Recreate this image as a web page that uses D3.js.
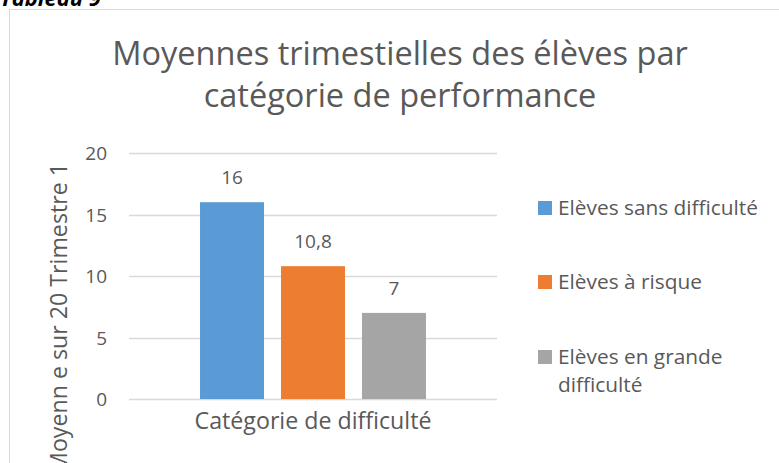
<!DOCTYPE html>
<html>
<head>
<meta charset="utf-8">
<script src="https://cdn.jsdelivr.net/npm/d3@7"></script>
<style>
html,body{margin:0;padding:0;background:#fff;overflow:hidden;}
svg{display:block;}
text{font-family:"Open Sans",sans-serif;fill:#595959;}
</style>
</head>
<body>
<svg id="c" width="779" height="463"></svg>
<script>
const categories = ["Catégorie de difficulté"];
const seriesNames = ["Elèves sans difficulté", "Elèves à risque", "Elèves en grande difficulté"];
const seriesValues = [16, 10.8, 7];
const valueLabels = ["16", "10,8", "7"];
const seriesColors = ["#5B9BD5", "#ED7D31", "#A5A5A5"];
const yTicks = [0, 5, 10, 15, 20];
const titleLines = ["Moyennes trimestielles des élèves par", "catégorie de performance"];
const yTitle = "Moyenn e sur 20 Trimestre 1";
const caption = "Tableau 9";

const svg = d3.select("#c");

function fit(sel, target) {
  const w = sel.node().getComputedTextLength();
  const fs = parseFloat(sel.attr("font-size"));
  sel.attr("font-size", fs * target / w);
}

// caption above chart (clipped)
svg.append("text").attr("x", 0).attr("y", 6)
  .attr("font-family", "Liberation Serif").attr("font-weight", "bold").attr("font-style", "italic")
  .attr("font-size", 22).style("fill", "#000").text(caption);

// chart frame
svg.append("rect").attr("x", 9.5).attr("y", 9.5).attr("width", 820).attr("height", 520)
  .attr("fill", "#fff").attr("stroke", "#D9D9D9").attr("stroke-width", 1);

// title
const tcx = 400;
const t1 = svg.append("text").attr("x", tcx).attr("y", 65).attr("text-anchor", "middle")
  .attr("font-size", 30).text(titleLines[0]);
fit(t1, 576);
const t2 = svg.append("text").attr("x", tcx).attr("y", 107).attr("text-anchor", "middle")
  .attr("font-size", t1.attr("font-size")).text(titleLines[1]);

const y = d3.scaleLinear().domain([0, 20]).range([399, 153]);
const x0 = d3.scaleBand().domain(categories).range([129, 497]);
const x1 = d3.scaleBand().domain(seriesNames).range([129, 497])
  .paddingInner(0.21).paddingOuter(0.877);

// gridlines
svg.append("g").selectAll("line").data(yTicks).join("line")
  .attr("x1", x0.range()[0]).attr("x2", x0.range()[1])
  .attr("y1", d => Math.round(y(d)) + 0.5).attr("y2", d => Math.round(y(d)) + 0.5)
  .attr("stroke", "#D9D9D9").attr("stroke-width", 1.3);

// y tick labels
svg.append("g").selectAll("text").data(yTicks).join("text")
  .attr("x", 107).attr("y", d => y(d) + 7).attr("text-anchor", "end")
  .attr("font-size", 19).text(d => d);

// bars
const bars = seriesNames.map((s, i) => ({s, v: seriesValues[i], c: seriesColors[i], l: valueLabels[i]}));
svg.append("g").selectAll("rect").data(bars).join("rect")
  .attr("x", d => x1(d.s)).attr("width", x1.bandwidth())
  .attr("y", d => y(d.v)).attr("height", d => y(0) - y(d.v))
  .attr("fill", d => d.c);

// value labels
svg.append("g").selectAll("text").data(bars).join("text")
  .attr("x", d => x1(d.s) + x1.bandwidth() / 2).attr("y", d => y(d.v) - 18)
  .attr("text-anchor", "middle").attr("font-size", 19).text(d => d.l);

// category label
const cl = svg.append("text").attr("x", x0(categories[0]) + x0.bandwidth() / 2).attr("y", 429)
  .attr("text-anchor", "middle").attr("font-size", 19).text(categories[0]);
fit(cl, 237);

// y axis title
svg.append("text").attr("transform", "translate(67,163) rotate(-90)")
  .attr("text-anchor", "end").attr("font-size", cl.attr("font-size")).text(yTitle);

// legend
const legY = [208, 282, 357];
const lg = svg.append("g").selectAll("g").data(bars).join("g")
  .attr("transform", (d, i) => `translate(538,${legY[i]})`);
lg.append("rect").attr("x", 0).attr("y", -7).attr("width", 14).attr("height", 14).attr("fill", d => d.c);
const lfs = 19;
lg.each(function(d, i) {
  const g = d3.select(this);
  if (i === 2) {
    g.append("text").attr("x", 20).attr("y", 7).attr("font-size", lfs).attr("class", "lt").text("Elèves en grande");
    g.append("text").attr("x", 20).attr("y", 35).attr("font-size", lfs).attr("class", "lt").text("difficulté");
  } else {
    g.append("text").attr("x", 20).attr("y", 7).attr("font-size", lfs).attr("class", "lt").text(d.s);
  }
});
const first = svg.select(".lt");
const w0 = first.node().getComputedTextLength();
const lscale = 200 / w0;
svg.selectAll(".lt").attr("font-size", lfs * lscale);
</script>
</body>
</html>
